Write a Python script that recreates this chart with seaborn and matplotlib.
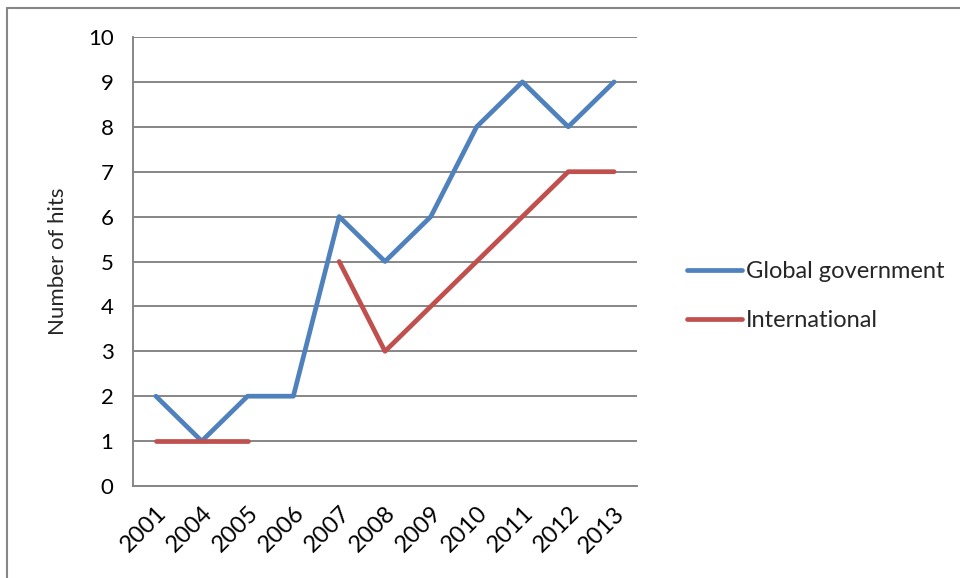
import matplotlib
matplotlib.use("Agg")
import matplotlib.pyplot as plt
import numpy as np
import pandas as pd
import seaborn as sns

years = ["2001", "2004", "2005", "2006", "2007", "2008", "2009", "2010", "2011", "2012", "2013"]
global_gov = [2, 1, 2, 2, 6, 5, 6, 8, 9, 8, 9]
international = [1, 1, 1, np.nan, 5, 3, 4, 5, 6, 7, 7]

BLUE = "#4F81BD"
RED = "#C0504D"
GRID = "#868686"

sns.set_theme(style="white")
plt.rcParams["font.family"] = ["Lato", "DejaVu Sans"]

fig = plt.figure(figsize=(9.6, 5.78), dpi=100)
ax = fig.add_axes([133 / 960, 1 - 486 / 578, 504 / 960, 449 / 578])

df = pd.DataFrame({"pos": range(len(years)), "Global government": global_gov,
                   "International": international})


def draw_series(col, color):
    # split on gaps so missing years break the line like Excel does
    s = df[["pos", col]]
    grp = s[col].isna().cumsum()
    first = True
    for _, seg in s[s[col].notna()].groupby(grp[s[col].notna()]):
        sns.lineplot(data=seg, x="pos", y=col, ax=ax, color=color, linewidth=3.4,
                     solid_capstyle="round", label=col if first else None)
        first = False


draw_series("Global government", BLUE)
draw_series("International", RED)

ax.set_xlim(-0.5, len(years) - 0.5)
ax.set_ylim(0, 10)
ax.set_yticks(range(0, 11))
ax.set_xticks(range(len(years)))
ax.set_xticklabels(years, rotation=45, ha="right", rotation_mode="anchor")
ax.tick_params(axis="both", colors="black", length=0)
ax.tick_params(axis="y", labelsize=16, pad=14)
ax.tick_params(axis="x", labelsize=17, pad=12)
ax.yaxis.grid(True, color=GRID, linewidth=1.4)
ax.set_axisbelow(True)
for side in ["top", "right"]:
    ax.spines[side].set_visible(False)
for side in ["left", "bottom"]:
    ax.spines[side].set_color(GRID)
    ax.spines[side].set_linewidth(1.4)
ax.set_xlabel("")
ax.set_ylabel("Number of hits", fontsize=16, labelpad=14)

handles, labels = ax.get_legend_handles_labels()
ax.get_legend().remove()
fig.legend(handles, labels, loc="center left", bbox_to_anchor=(666 / 960, 1 - 296 / 578),
           frameon=False, fontsize=17, handlelength=2.3, handletextpad=0.2,
           labelspacing=1.2)

# outer chart border (only top and left visible in the reference crop)
fig.add_artist(plt.Line2D([7 / 960, 7 / 960], [0, 1 - 8 / 578], color=GRID, linewidth=1.5))
fig.add_artist(plt.Line2D([7 / 960, 1], [1 - 8 / 578, 1 - 8 / 578], color=GRID, linewidth=1.5))

fig.savefig("out.png", dpi=100)
